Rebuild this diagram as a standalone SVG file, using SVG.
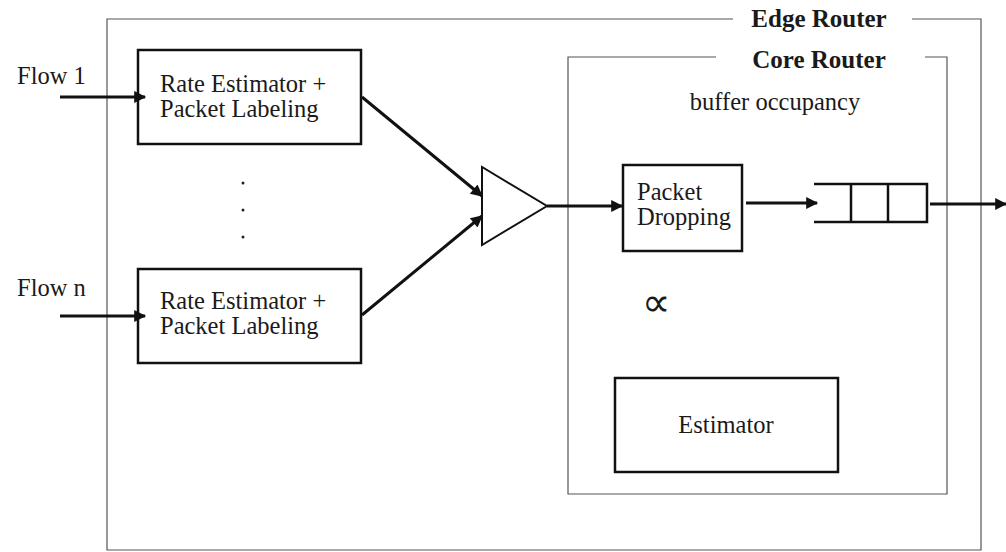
<svg xmlns="http://www.w3.org/2000/svg" width="1006" height="552" viewBox="0 0 1006 552">
<style>
.frame{fill:none;stroke:#555;stroke-width:1.2}
.box{fill:#fff;stroke:#111;stroke-width:2.5}
.conn{fill:none;stroke:#111;stroke-width:3}
.t{font-family:"Liberation Serif",serif;fill:#1a1a1a;font-size:24.5px}
.hd{font-size:25px;font-weight:bold}
</style>
<defs>
<marker id="ah" viewBox="0 0 10 10" refX="9" refY="5" markerWidth="5.5" markerHeight="4" orient="auto" markerUnits="strokeWidth">
<path d="M0,0 L10,5 L0,10 z" fill="#111"/>
</marker>
</defs>
<rect width="1006" height="552" fill="#fff"/>
<g id="edge-router">
<path class="frame" d="M733,19 L107,19 L107,550 L981,550 L981,19 L912,19"/>
<text class="t hd" x="819" y="27" text-anchor="middle">Edge Router</text>
</g>
<g id="core-router">
<path class="frame" d="M716,57 L568,57 L568,494 L947,494 L947,57 L925,57"/>
<text class="t hd" x="819" y="68" text-anchor="middle">Core Router</text>
<text class="t" x="775" y="110" text-anchor="middle">buffer occupancy</text>
</g>
<g id="flow1-label"><text class="t" x="17" y="84">Flow 1</text></g>
<g id="flown-label"><text class="t" x="17" y="296">Flow n</text></g>
<g id="rate-estimator-1">
<rect class="box" x="138" y="50" width="223" height="94"/>
<text class="t" x="160" y="92">Rate Estimator +</text>
<text class="t" x="160" y="117">Packet Labeling</text>
</g>
<g id="dots" fill="#222">
<circle cx="243" cy="183" r="1.5"/>
<circle cx="243" cy="210" r="1.5"/>
<circle cx="243" cy="237" r="1.5"/>
</g>
<g id="rate-estimator-n">
<rect class="box" x="138" y="269" width="223" height="94"/>
<text class="t" x="160" y="309">Rate Estimator +</text>
<text class="t" x="160" y="334">Packet Labeling</text>
</g>
<g id="combiner">
<polygon points="482,167 482,245 547,206" fill="#fff" stroke="#111" stroke-width="2"/>
</g>
<g id="packet-dropping">
<rect class="box" x="623" y="165" width="119" height="86"/>
<text class="t" x="637" y="200">Packet</text>
<text class="t" x="637" y="225">Dropping</text>
</g>
<g id="queue" fill="none" stroke="#111" stroke-width="2.5">
<path d="M814,184 L927,184 L927,222 L814,222"/>
<line x1="851" y1="184" x2="851" y2="222"/>
<line x1="888" y1="184" x2="888" y2="222"/>
</g>
<g id="proportional"><text x="642" y="316" font-family="DejaVu Sans,sans-serif" font-size="40" fill="#1a1a1a">∝</text></g>
<g id="estimator">
<rect class="box" x="615" y="378" width="223" height="94"/>
<text class="t" x="726" y="433" text-anchor="middle">Estimator</text>
</g>
<g id="connectors">
<line class="conn" x1="60" y1="97" x2="145" y2="97" marker-end="url(#ah)"/>
<line class="conn" x1="60" y1="316" x2="145" y2="316" marker-end="url(#ah)"/>
<line class="conn" x1="362" y1="97" x2="482" y2="196" marker-end="url(#ah)"/>
<line class="conn" x1="362" y1="315" x2="482" y2="216" marker-end="url(#ah)"/>
<line class="conn" x1="547" y1="206" x2="622" y2="206" marker-end="url(#ah)"/>
<line class="conn" x1="746" y1="203" x2="817" y2="203" marker-end="url(#ah)"/>
<line class="conn" x1="930" y1="204" x2="1006" y2="204" marker-end="url(#ah)"/>
</g>
</svg>
